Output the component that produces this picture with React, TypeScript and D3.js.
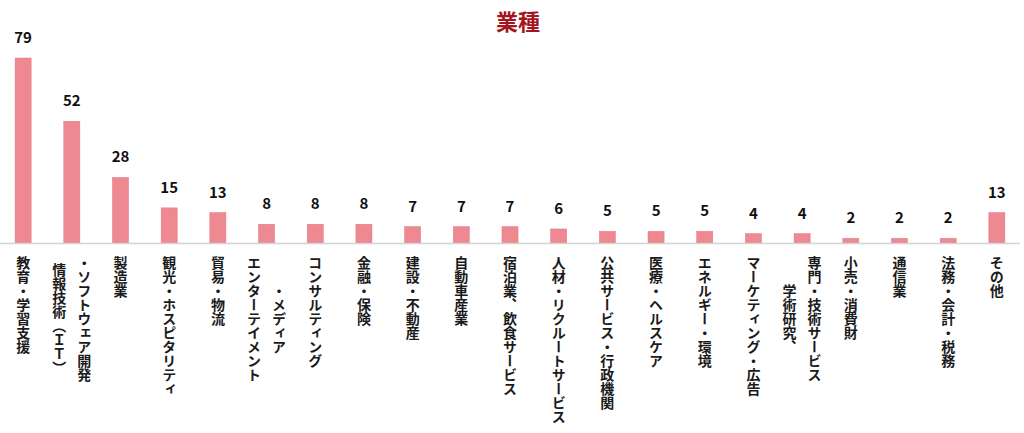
import React from 'react';
import { scaleBand, scaleLinear, max as d3Max } from 'd3';

// 業種ごとの回答数
const labelLines: string[][] = [
    ['教育・学習支援'],
    ['情報技術（ＩＴ）', '・ソフトウェア開発'],
    ['製造業'],
    ['観光・ホスピタリティ'],
    ['貿易・物流'],
    ['エンターテイメント', '・メディア'],
    ['コンサルティング'],
    ['金融・保険'],
    ['建設・不動産'],
    ['自動車産業'],
    ['宿泊業、飲食サービス'],
    ['人材・リクルートサービス'],
    ['公共サービス・行政機関'],
    ['医療・ヘルスケア'],
    ['エネルギー・環境'],
    ['マーケティング・広告'],
    ['学術研究、', '専門・技術サービス'],
    ['小売・消費財'],
    ['通信業'],
    ['法務・会計・税務'],
    ['その他'],
];
const counts = [79, 52, 28, 15, 13, 8, 8, 8, 7, 7, 7, 6, 5, 5, 5, 4, 4, 2, 2, 2, 13];
const categories = labelLines.map(l => l.join(''));

const App: React.FC = () => {
    const width = 1024;
    const height = 433;
    const baseY = 243;
    const topY = 58;
    const font = '"Noto Sans CJK JP", "Noto Sans", sans-serif';
    const labelSize = 14;
    const colGap = 25;

    const x = scaleBand<string>()
        .domain(categories)
        .range([0, 1020])
        .paddingInner(0.67)
        .paddingOuter(0.31);

    const y = scaleLinear()
        .domain([0, d3Max(counts) as number])
        .range([baseY, topY]);

    return (
        <svg width={width} height={height} style={{ position: 'absolute', left: 0, top: 0, background: '#fff' }}>
            <text x={518} y={30} textAnchor="middle" fontFamily={font} fontSize={22} fontWeight="bold" fill="#a3151f">
                業種
            </text>

            {/* bars */}
            {categories.map((c, i) => (
                <rect
                    key={c}
                    x={x(c)}
                    y={y(counts[i])}
                    width={x.bandwidth()}
                    height={baseY - y(counts[i])}
                    fill="#ee8891"
                    stroke="#e07a84"
                    strokeWidth={0.5}
                />
            ))}

            <line x1={0} x2={1020} y1={baseY + 0.5} y2={baseY + 0.5} stroke="#d4d4d4" strokeWidth={1.5} />

            {/* value labels */}
            {categories.map((c, i) => (
                <text
                    key={c}
                    x={(x(c) as number) + x.bandwidth() / 2}
                    y={y(counts[i]) - 15}
                    textAnchor="middle"
                    fontFamily={font}
                    fontSize={15}
                    fontWeight="bold"
                    fill="#111"
                >
                    {counts[i]}
                </text>
            ))}

            {/* vertical category labels */}
            {categories.map((c, i) => {
                const lines = labelLines[i];
                const cx = (x(c) as number) + x.bandwidth() / 2;
                const longest = Math.max(...lines.map(l => l.length));
                const midY = 256 + (longest * labelSize) / 2;
                return (
                    <g key={c}>
                        {lines.map((line, j) => (
                            <text
                                key={j}
                                x={cx + (j - (lines.length - 1) / 2) * colGap}
                                y={midY}
                                textAnchor="middle"
                                fontFamily={font}
                                fontSize={labelSize}
                                fontWeight="bold"
                                fill="#1a1a1a"
                                style={{ writingMode: 'vertical-rl' }}
                            >
                                {line}
                            </text>
                        ))}
                    </g>
                );
            })}
        </svg>
    );
};

export default App;
